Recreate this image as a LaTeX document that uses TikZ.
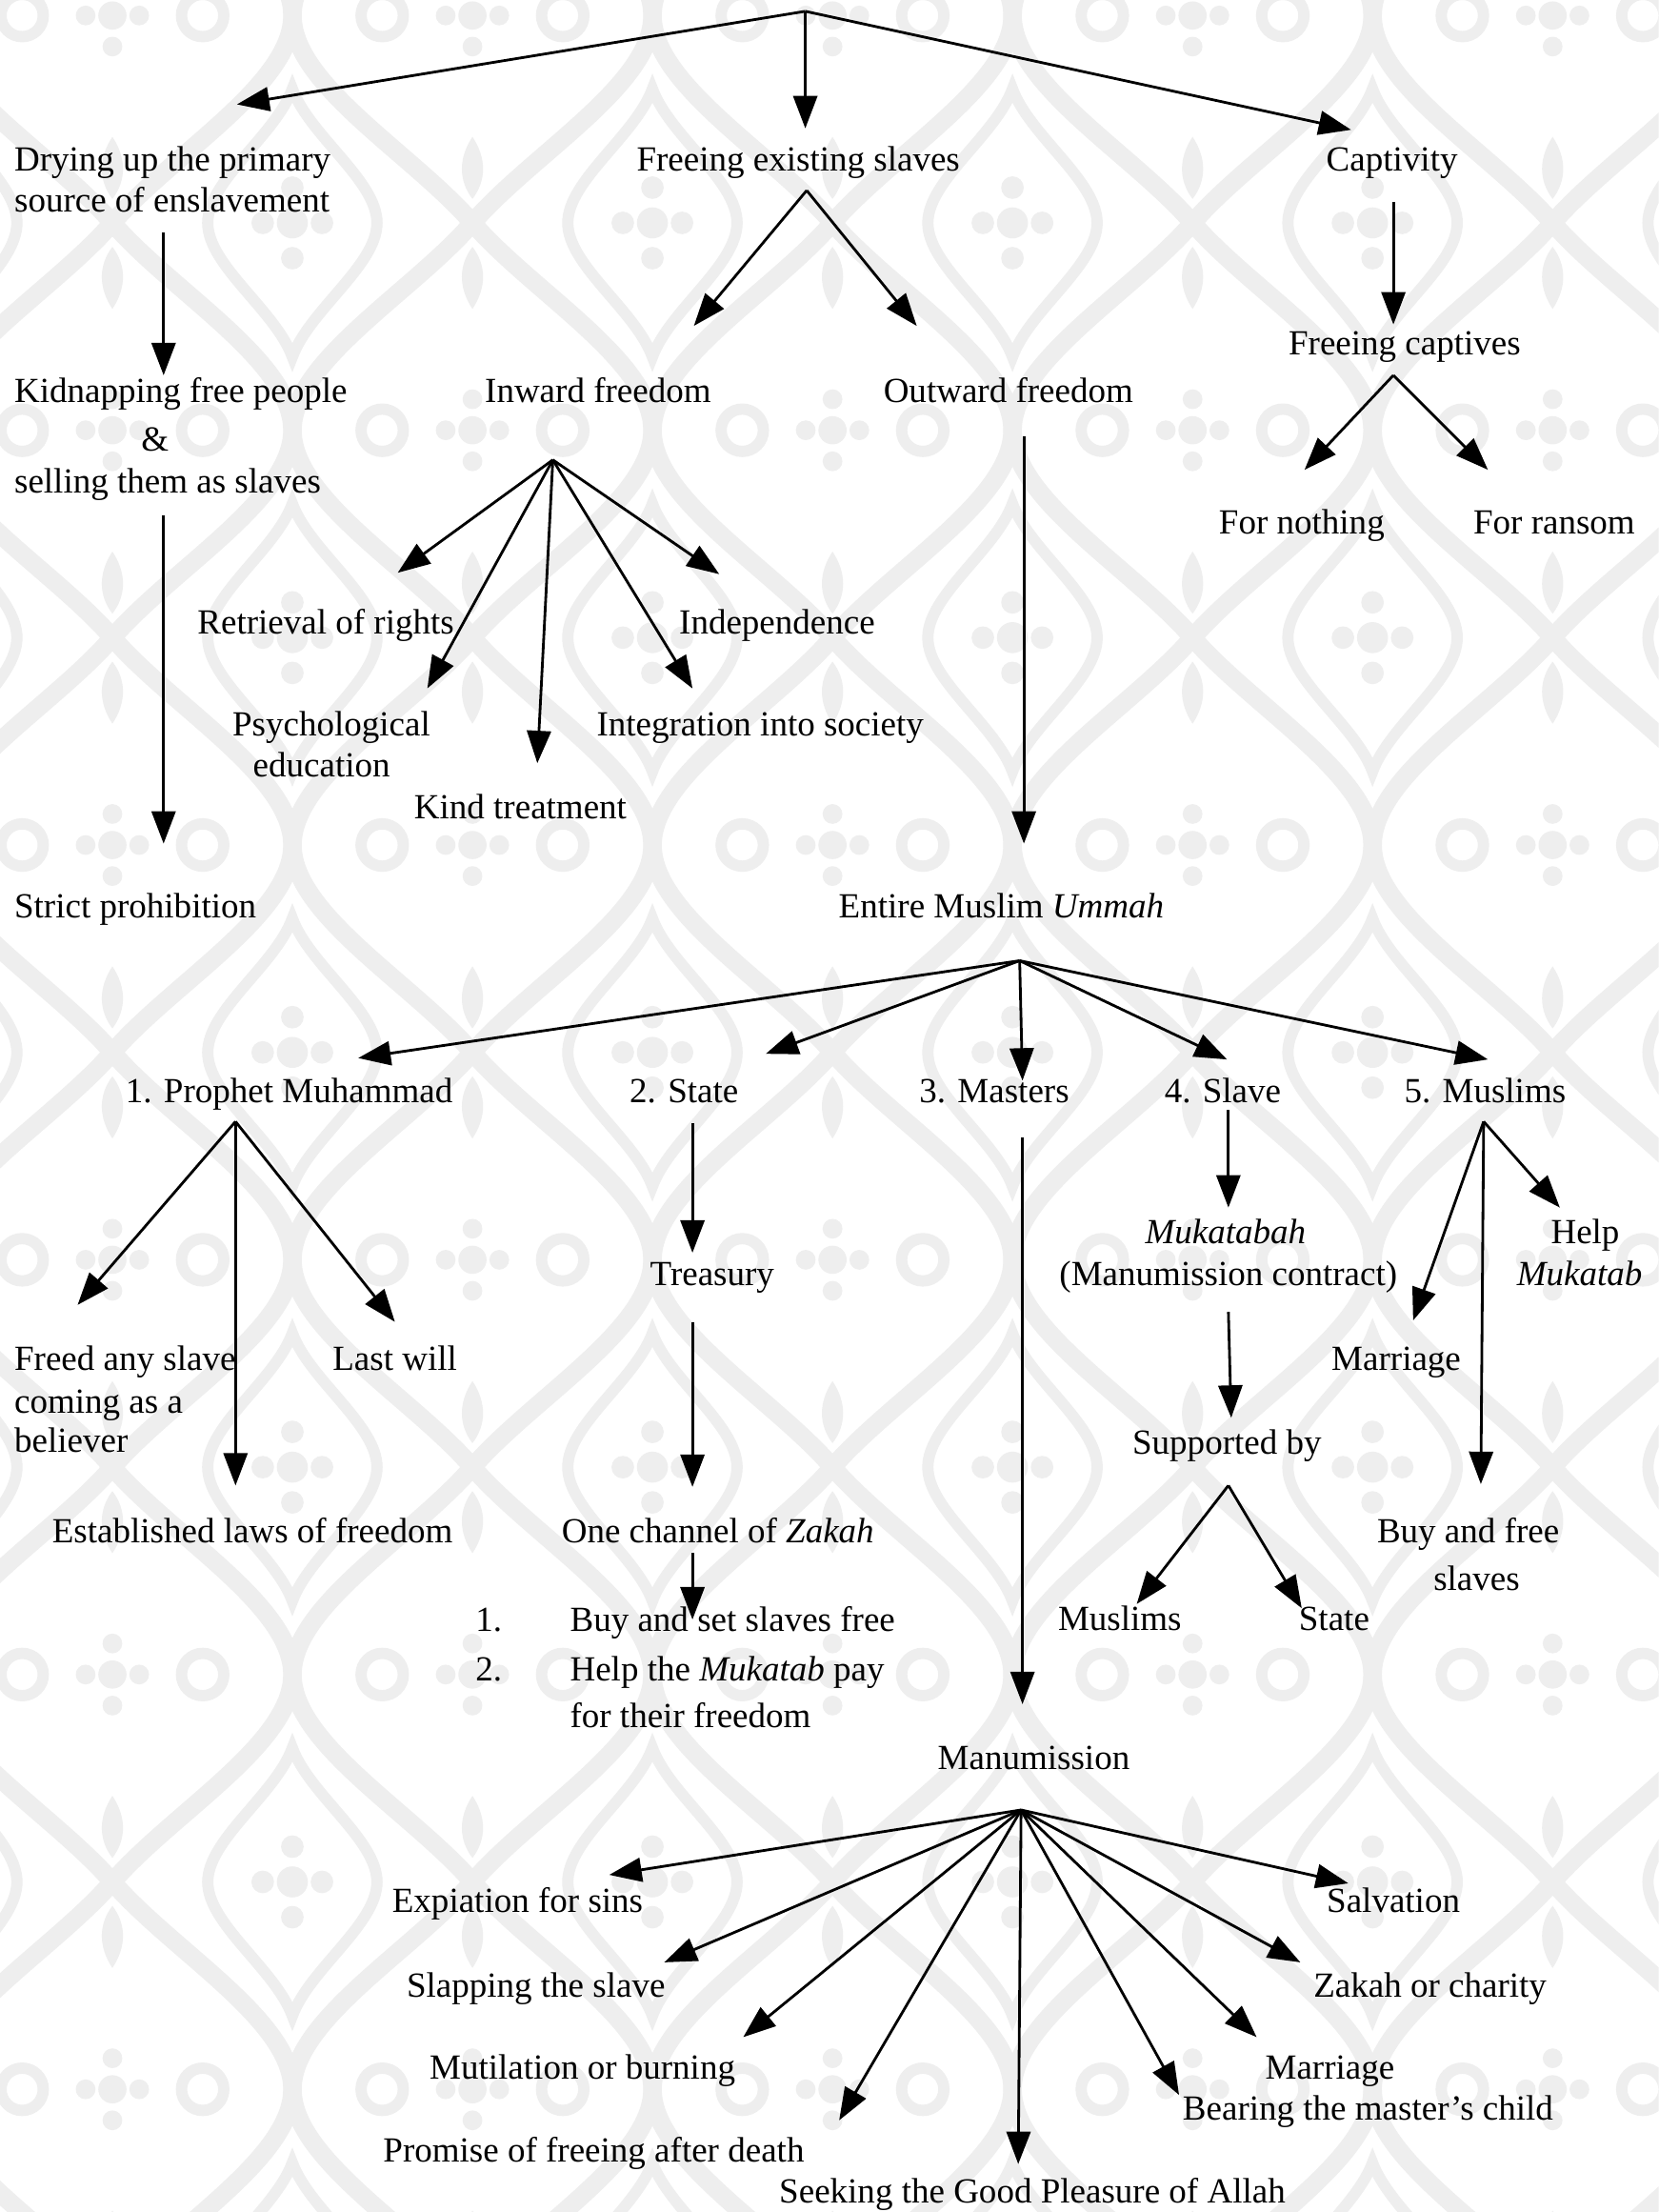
\documentclass[tikz,border=0pt]{standalone}
\usepackage{fontspec}
\setmainfont{Liberation Serif}
\usetikzlibrary{arrows.meta}
\definecolor{bgc}{RGB}{238,238,238}
\newcommand\dfont{\fontsize{25}{29}\selectfont}
\tikzset{
  t/.style={font=\dfont, inner sep=0pt, text height=20pt, text depth=3pt},
  tl/.style={t, anchor=west},
  arr/.style={line width=1.9pt, -{Triangle[length=23pt,width=17pt]}},
  band/.style={draw=bgc, line width=13pt},
  cellA/.pic={
    \draw[bgc, line width=8pt] (0,-95) .. controls (12,-62) and (60,-30) .. (60,0)
      .. controls (60,30) and (12,62) .. (0,95) .. controls (-12,62) and (-60,30) .. (-60,0)
      .. controls (-60,-30) and (-12,-62) .. (0,-95) -- cycle;
    \fill[bgc] (0,0) circle (11) (0,-25) circle (8) (0,25) circle (8) (-21,0) circle (8) (21,0) circle (8);
  },
  cellB/.pic={
    \fill[bgc] (0,-130) .. controls (10,-117) and (10,-101) .. (0,-86) .. controls (-10,-101) and (-10,-117) .. (0,-130);
    \fill[bgc] (0,130) .. controls (10,117) and (10,101) .. (0,86) .. controls (-10,101) and (-10,117) .. (0,130);
    \draw[bgc, line width=8pt] (-64,0) circle (15) (64,0) circle (15);
    \fill[bgc] (0,0) circle (10) (0,-22) circle (7) (0,22) circle (7) (-19,0) circle (7) (19,0) circle (7);
  }
}
\begin{document}
\begin{tikzpicture}[x=1pt,y=-1pt,
  declare function={tw(\a)=asin(sin(\a))/90; og(\b)=\b+\b*abs(\b)-\b*\b*\b;}]
\useasboundingbox (0,0) rectangle (1176,1568);
\fill[white] (0,0) rectangle (1176,1568);
% ---------- background damask ----------
\begin{scope}
  \clip (0,0) rectangle (1176,1568);
  \foreach \k in {-1,0,...,5}{
    \draw[band] plot[smooth, domain=-160:1730, samples=220, variable=\s]
      ({79.7+\k*255.3+127.6*og(tw((\s-1334)*0.612245))},\s);
    \draw[band] plot[smooth, domain=-160:1730, samples=220, variable=\s]
      ({79.7+\k*255.3-127.6*og(tw((\s-1334)*0.612245))},\s);
  }
  \foreach \k in {-1,0,...,4}{
    \foreach \n in {-1,0,...,5}{
      \pic at ({207.3+\k*255.3},{1334-\n*294}) {cellA};
    }
  }
  \foreach \k in {-1,0,...,5}{
    \foreach \n in {-1,0,...,5}{
      \pic at ({79.7+\k*255.3},{1481-\n*294}) {cellB};
    }
  }
\end{scope}
% ---------- connector points ----------
\coordinate (r0) at (571,8);
\coordinate (dryT) at (168,74);
\coordinate (freT) at (571,91);
\coordinate (capT) at (958,92);
\coordinate (dryB) at (116,165);
\coordinate (kidT) at (116,266);
\coordinate (freB) at (572,135);
\coordinate (inwT) at (492,231);
\coordinate (outT) at (650,231);
\coordinate (capB) at (988,143);
\coordinate (fcT) at (988,230);
\coordinate (fcB) at (988,266);
\coordinate (fnT) at (925,333);
\coordinate (frT) at (1055,333);
\coordinate (kidB) at (116,365);
\coordinate (strT) at (116,598);
\coordinate (inwB) at (392,326);
\coordinate (retrT) at (282,406);
\coordinate (psyT) at (303,488);
\coordinate (kindT) at (381,541);
\coordinate (integT) at (491,488);
\coordinate (indeT) at (510,407);
\coordinate (outB) at (726,309);
\coordinate (umT) at (726,598);
\coordinate (umB) at (723,681);
\coordinate (prT) at (254,750);
\coordinate (stT) at (543,747);
\coordinate (maT) at (725,766);
\coordinate (slT) at (870,751);
\coordinate (muT) at (1055,751);
\coordinate (prB) at (167,795);
\coordinate (faT) at (55,925);
\coordinate (esT) at (167,1053);
\coordinate (lwT) at (280,937);
\coordinate (stB) at (491,796);
\coordinate (trT) at (491,888);
\coordinate (trB) at (491,937);
\coordinate (chT) at (491,1054);
\coordinate (chB) at (491,1101);
\coordinate (liT) at (491,1148);
\coordinate (maB) at (725,806);
\coordinate (mnT) at (725,1208);
\coordinate (slB) at (871,787);
\coordinate (mkT) at (871,856);
\coordinate (mkB) at (871,930);
\coordinate (spT) at (873,1005);
\coordinate (spB) at (871,1053);
\coordinate (smT) at (806,1137);
\coordinate (ssT) at (923,1140);
\coordinate (muB) at (1052,795);
\coordinate (mrT) at (1002,936);
\coordinate (bfT) at (1050,1052);
\coordinate (hmT) at (1106,856);
\coordinate (mnB) at (724,1283);
\coordinate (exT) at (432,1329);
\coordinate (slpT) at (471,1391);
\coordinate (mtT) at (527,1444);
\coordinate (pmT) at (595,1503);
\coordinate (skT) at (722,1534);
\coordinate (brT) at (836,1485);
\coordinate (mgT) at (891,1444);
\coordinate (zkT) at (922,1391);
\coordinate (svT) at (956,1335);
% ---------- connectors ----------
\draw[arr] (r0) -- (dryT);
\draw[arr] (r0) -- (freT);
\draw[arr] (r0) -- (capT);
\draw[arr] (dryB) -- (kidT);
\draw[arr] (freB) -- (inwT);
\draw[arr] (freB) -- (outT);
\draw[arr] (capB) -- (fcT);
\draw[arr] (fcB) -- (fnT);
\draw[arr] (fcB) -- (frT);
\draw[arr] (kidB) -- (strT);
\draw[arr] (inwB) -- (retrT);
\draw[arr] (inwB) -- (psyT);
\draw[arr] (inwB) -- (kindT);
\draw[arr] (inwB) -- (integT);
\draw[arr] (inwB) -- (indeT);
\draw[arr] (outB) -- (umT);
\draw[arr] (umB) -- (prT);
\draw[arr] (umB) -- (stT);
\draw[arr] (umB) -- (maT);
\draw[arr] (umB) -- (slT);
\draw[arr] (umB) -- (muT);
\draw[arr] (prB) -- (faT);
\draw[arr] (prB) -- (esT);
\draw[arr] (prB) -- (lwT);
\draw[arr] (stB) -- (trT);
\draw[arr] (trB) -- (chT);
\draw[arr] (chB) -- (liT);
\draw[arr] (maB) -- (mnT);
\draw[arr] (slB) -- (mkT);
\draw[arr] (mkB) -- (spT);
\draw[arr] (spB) -- (smT);
\draw[arr] (spB) -- (ssT);
\draw[arr] (muB) -- (mrT);
\draw[arr] (muB) -- (bfT);
\draw[arr] (muB) -- (hmT);
\draw[arr] (mnB) -- (exT);
\draw[arr] (mnB) -- (slpT);
\draw[arr] (mnB) -- (mtT);
\draw[arr] (mnB) -- (pmT);
\draw[arr] (mnB) -- (skT);
\draw[arr] (mnB) -- (brT);
\draw[arr] (mnB) -- (mgT);
\draw[arr] (mnB) -- (zkT);
\draw[arr] (mnB) -- (svT);
% ---------- texts ----------
\node[tl] (dry1) at (10,113) {Drying up the primary};
\node[tl] (dry2) at (10,142) {source of enslavement};
\node[t] (free) at (566,113) {Freeing existing slaves};
\node[t] (capt) at (987,113) {Captivity};
\node[tl] (kid1) at (10,277) {Kidnapping free people};
\node[t] (kid2) at (110,311) {\&};
\node[tl] (kid3) at (10,341) {selling them as slaves};
\node[t] (inw) at (424,277) {Inward freedom};
\node[t] (outw) at (715,277) {Outward freedom};
\node[t] (fcap) at (996,243) {Freeing captives};
\node[t] (fnot) at (923,370) {For nothing};
\node[t] (fran) at (1102,370) {For ransom};
\node[t] (retr) at (231,441) {Retrieval of rights};
\node[t] (inde) at (551,441) {Independence};
\node[t] (psy1) at (235,513) {Psychological};
\node[t] (psy2) at (228,542) {education};
\node[t] (integ) at (539,513) {Integration into society};
\node[t] (kind) at (369,572) {Kind treatment};
\node[tl] (strict) at (10,642) {Strict prohibition};
\node[t] (ummah) at (710,642) {Entire Muslim \textit{Ummah}};
\node[t] (proph) at (205,773) {1. Prophet Muhammad};
\node[t] (state) at (485,773) {2. State};
\node[t] (mast) at (705,773) {3. Masters};
\node[t] (slave) at (867,773) {4. Slave};
\node[t] (musl) at (1053,773) {5. Muslims};
\node[tl] (fa1) at (10,963) {Freed any slave};
\node[tl] (fa2) at (10,993) {coming as a};
\node[tl] (fa3) at (10,1021) {believer};
\node[t] (last) at (280,963) {Last will};
\node[t] (estab) at (179,1085) {Established laws of freedom};
\node[t] (treas) at (505,903) {Treasury};
\node[t] (chan) at (509,1085) {One channel of \textit{Zakah}};
\node[tl] (n1) at (337,1148) {1.};
\node[tl] (buy) at (404,1148) {Buy and set slaves free};
\node[tl] (n2) at (337,1183) {2.};
\node[tl] (help1) at (404,1183) {Help the \textit{Mukatab} pay};
\node[tl] (help2) at (404,1216) {for their freedom};
\node[t] (muk1) at (869,873) {\textit{Mukatabah}};
\node[t] (muk2) at (871,903) {(Manumission contract)};
\node[t] (supp) at (870,1022) {Supported by};
\node[t] (smus) at (794,1147) {Muslims};
\node[t] (sst) at (946,1147) {State};
\node[t] (hm1) at (1124,873) {Help};
\node[t] (hm2) at (1120,903) {\textit{Mukatab}};
\node[t] (marr1) at (990,963) {Marriage};
\node[t] (bf1) at (1041,1085) {Buy and free};
\node[t] (bf2) at (1047,1119) {slaves};
\node[t] (manu) at (733,1246) {Manumission};
\node[t] (expi) at (367,1347) {Expiation for sins};
\node[t] (slap) at (380,1407) {Slapping the slave};
\node[t] (muti) at (413,1465) {Mutilation or burning};
\node[t] (prom) at (421,1524) {Promise of freeing after death};
\node[t] (seek) at (732,1553) {Seeking the Good Pleasure of Allah};
\node[t] (salv) at (988,1347) {Salvation};
\node[t] (zak) at (1014,1407) {Zakah or charity};
\node[t] (marr2) at (943,1465) {Marriage};
\node[t] (bear) at (970,1494) {Bearing the master’s child};
\end{tikzpicture}
\end{document}
